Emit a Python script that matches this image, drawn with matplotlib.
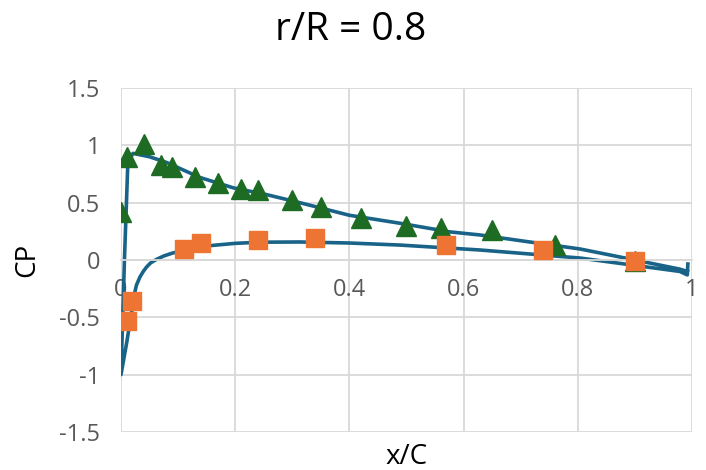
import matplotlib
matplotlib.use('Agg')
import matplotlib.pyplot as plt

plt.rcParams['font.family'] = ['Open Sans', 'DejaVu Sans']

# measured Cp, suction side (triangles) and pressure side (squares)
tri_x = [0.0, 0.01, 0.04, 0.07, 0.09, 0.13, 0.17, 0.21, 0.24, 0.30, 0.35,
         0.42, 0.50, 0.56, 0.65, 0.76, 0.90]
tri_cp = [0.42, 0.90, 1.01, 0.83, 0.81, 0.72, 0.67, 0.62, 0.61, 0.52, 0.46,
          0.37, 0.30, 0.28, 0.26, 0.13, -0.01]

sq_x = [0.01, 0.02, 0.11, 0.14, 0.24, 0.34, 0.57, 0.74, 0.90]
sq_cp = [-0.53, -0.36, 0.10, 0.15, 0.17, 0.19, 0.13, 0.09, -0.01]

# computed Cp curve (closed, TE -> lower -> LE -> upper -> TE)
lower_x = [0.0, 0.01, 0.019, 0.022, 0.027, 0.033, 0.039, 0.045, 0.052, 0.062,
           0.075, 0.09, 0.11, 0.13, 0.156, 0.2, 0.243, 0.313, 0.40, 0.489,
           0.629, 0.804, 0.979, 0.992]
lower_cp = [-1.0, -0.72, -0.44, -0.33, -0.22, -0.15, -0.10, -0.06, -0.025, 0.005,
            0.035, 0.06, 0.085, 0.105, 0.125, 0.145, 0.155, 0.157, 0.148, 0.13,
            0.087, 0.017, -0.10, -0.13]
upper_x = [0.0, 0.006, 0.012, 0.021, 0.05, 0.08, 0.138, 0.196, 0.255, 0.313,
           0.40, 0.489, 0.576, 0.629, 0.716, 0.804, 0.891, 0.979, 0.992]
upper_cp = [-1.0, 0.0, 0.85, 0.93, 0.90, 0.85, 0.72, 0.63, 0.57, 0.50,
            0.39, 0.32, 0.245, 0.218, 0.157, 0.096, 0.009, -0.08, -0.10]
te_x = [0.993]
te_cp = [-0.035]

curve_x = te_x + lower_x[::-1] + upper_x
curve_cp = te_cp + lower_cp[::-1] + upper_cp

fig = plt.figure(figsize=(7.06, 4.70), dpi=100)
ax = fig.add_axes([0.1714, 0.0809, 0.8086, 0.7319])

ax.plot(curve_x, curve_cp, color='#1a6388', lw=2.6, zorder=2,
        solid_joinstyle='round')
ax.plot(tri_x, tri_cp, '^', color='#1e6b23', ms=14, mec='#1e6b23', zorder=3)
ax.plot(sq_x, sq_cp, 's', color='#ed7432', ms=13, mec='#ed7432', zorder=3)

ax.set_xlim(0, 1)
ax.set_ylim(-1.5, 1.5)
ax.set_xticks([0, 0.2, 0.4, 0.6, 0.8, 1])
ax.set_xticklabels(['0', '0.2', '0.4', '0.6', '0.8', '1'])
ax.set_yticks([-1.5, -1, -0.5, 0, 0.5, 1, 1.5])
ax.set_yticklabels(['-1.5', '-1', '-0.5', '0', '0.5', '1', '1.5'])

ax.grid(True, color='#d9d9d9', lw=1.3, zorder=0)
ax.set_axisbelow(True)
for s in ['top', 'right', 'left']:
    ax.spines[s].set_visible(False)
ax.spines['bottom'].set_position(('data', 0))
ax.spines['bottom'].set_color('#d9d9d9')
ax.spines['bottom'].set_linewidth(1.3)
ax.tick_params(length=0, labelsize=17, labelcolor='#595959')
ax.tick_params(axis='x', pad=13)
ax.tick_params(axis='y', pad=15)

ax.set_xlabel('x/C', fontsize=20, va='center')
ax.xaxis.set_label_coords(0.5, -0.072)
ax.set_ylabel('CP', fontsize=20, va='center')
ax.yaxis.set_label_coords(-0.164, 0.5)

fig.text(0.496, 0.936, 'r/R = 0.8', fontsize=28, ha='center', va='center')

fig.savefig('out.png', dpi=100)
